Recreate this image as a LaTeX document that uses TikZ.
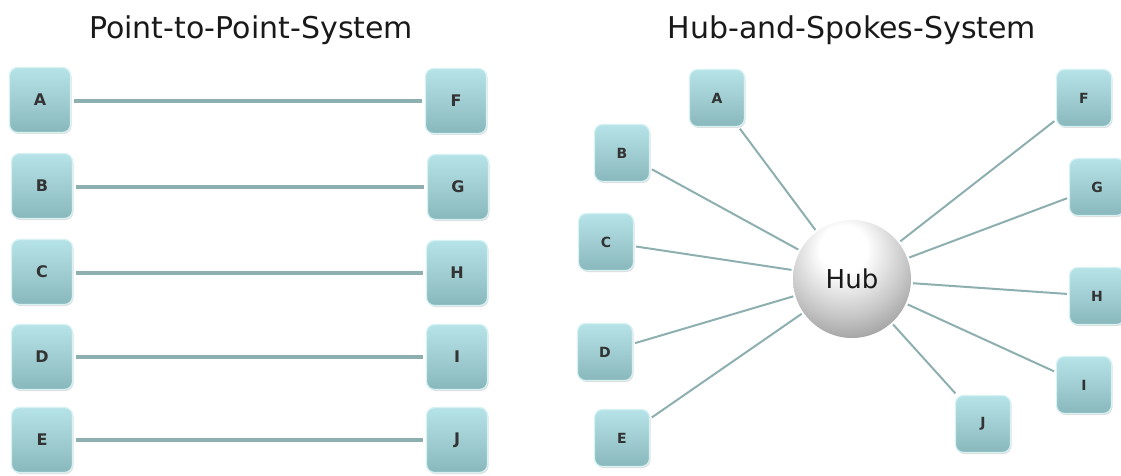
\documentclass[tikz,border=0pt]{standalone}
\usepackage{fontspec}
\setmainfont{DejaVu Sans}
\usetikzlibrary{shadows}
\definecolor{boxtop}{HTML}{B6E3E7}
\definecolor{boxbot}{HTML}{89B8BC}
\definecolor{boxrim}{HTML}{D6F2F4}
\definecolor{link}{HTML}{8EAFB0}
\pgfdeclareradialshading{pearl}{\pgfpoint{-4bp}{14bp}}{%
  color(0bp)=(white); color(10bp)=(white); color(26bp)=(black!22);
  color(44bp)=(black!50); color(58bp)=(black!40); color(100bp)=(black!40)}
\tikzset{
  key/.style={rounded corners=8pt, top color=boxtop, bottom color=boxbot,
    draw=boxrim, line width=1.2pt, minimum width=61pt, minimum height=65pt,
    inner sep=0pt, font=\fontsize{16}{16}\selectfont\bfseries, text=black!80,
    drop shadow={shadow xshift=1pt, shadow yshift=-1.5pt, opacity=0.25}},
  smallkey/.style={key, minimum width=55pt, minimum height=57pt,
    font=\fontsize{14}{14}\selectfont\bfseries},
  wire/.style={draw=link, line width=4.5pt, shorten <=3pt, shorten >=3pt},
  spoke/.style={draw=link, line width=2pt, shorten <=2pt, shorten >=2pt},
  heading/.style={font=\fontsize{30}{30}\selectfont, text=black!90},
}
\begin{document}
\begin{tikzpicture}[x=1pt, y=-1pt]
  \useasboundingbox (0,0) rectangle (1121,476);

  % titles
  \node[heading] (t1) at (251,30) {Point-to-Point-System};
  \node[heading] (t2) at (852,30) {Hub-and-Spokes-System};

  % point-to-point: five direct pairs
  \node[key] (pA) at (40,100) {A};
  \node[key] (pB) at (42,186) {B};
  \node[key] (pC) at (42,272) {C};
  \node[key] (pD) at (42,357) {D};
  \node[key] (pE) at (42,440) {E};
  \node[key] (pF) at (456,101) {F};
  \node[key] (pG) at (458,187) {G};
  \node[key] (pH) at (457,273) {H};
  \node[key] (pI) at (457,357) {I};
  \node[key] (pJ) at (457,440) {J};
  \foreach \a/\b in {A/F,B/G,C/H,D/I,E/J}
    \draw[wire] (p\a.east |- p\b.center) -- (p\b.west);

  % hub and spokes
  \node[circle, minimum size=118pt, inner sep=0pt, shading=pearl,
        font=\fontsize{26}{26}\selectfont, text=black!90] (hub) at (852,279) {Hub};
  \node[smallkey] (hA) at (717,98) {A};
  \node[smallkey] (hB) at (622,153) {B};
  \node[smallkey] (hC) at (606,242) {C};
  \node[smallkey] (hD) at (605,352) {D};
  \node[smallkey] (hE) at (622,438) {E};
  \node[smallkey] (hF) at (1084,98) {F};
  \node[smallkey] (hG) at (1097,187) {G};
  \node[smallkey] (hH) at (1097,296) {H};
  \node[smallkey] (hI) at (1084,385) {I};
  \node[smallkey] (hJ) at (983,424) {J};
  \foreach \k in {A,B,C,D,E,F,G,H,I,J}
    \draw[spoke] (hub) -- (h\k);
\end{tikzpicture}
\end{document}
